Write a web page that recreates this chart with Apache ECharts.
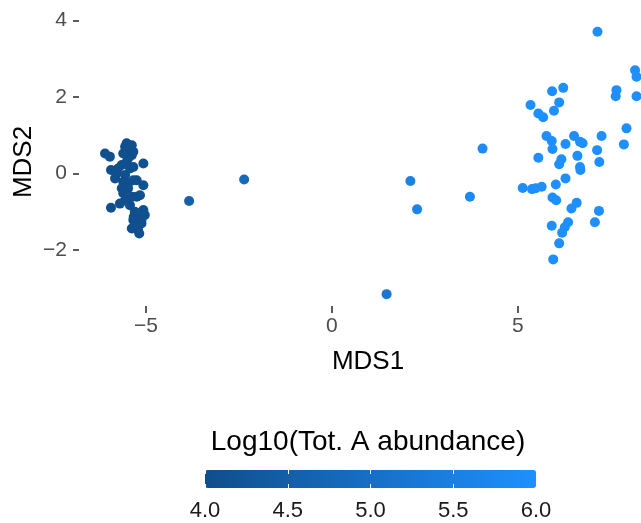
<!DOCTYPE html>
<html>
<head>
<meta charset="utf-8">
<title>MDS ordination</title>
<script src="https://cdn.jsdelivr.net/npm/echarts@6/dist/echarts.min.js"></script>
<style>
  html, body { margin: 0; padding: 0; background: #ffffff; }
  #chart { width: 641px; height: 523px; }
</style>
</head>
<body>
<div id="chart"></div>
<script>
// Sample coordinates on the first two MDS axes, with log10 total abundance
const mds1 = [
  // group dominated by low abundance
  -6.10, -5.97, -5.56, -5.48, -5.61, -5.38, -5.07, -5.94, -5.65, -5.52,
  -5.83, -5.56, -5.34, -5.25, -5.07, -5.48, -5.65, -5.16, -5.25, -5.56,
  -5.70, -5.94, -5.43, -5.30, -5.07, -5.21, -5.03, -5.34, -5.12, -5.30,
  -5.21, -5.18, -5.38, -5.75, -5.61, -5.43, -5.52, -5.38, -5.34, -5.48,
  -5.34, -5.79, -5.48, -5.61, -5.38, -5.12, -5.33,
  // intermediate samples
  -3.84, -2.36, 2.11, 2.29, 1.47, 3.71, 4.05,
  // group dominated by high abundance
  7.14, 8.15, 8.19, 7.65, 7.63, 8.19, 6.22, 5.92, 6.11, 5.34,
  5.97, 5.55, 5.68, 7.92, 7.85, 7.25, 7.13, 7.19, 5.77, 5.91,
  5.93, 6.28, 6.51, 6.67, 6.74, 6.60, 5.55, 6.17, 6.11, 6.67,
  6.68, 6.28, 6.02, 5.13, 5.38, 5.64, 5.48, 5.93, 6.03, 6.58,
  6.44, 7.18, 7.07, 5.91, 6.35, 6.26, 6.19, 6.11, 5.95
];
const mds2 = [
  0.52, 0.44, 0.70, 0.65, 0.52, 0.48, 0.26, 0.09, 0.22, 0.30,
  -0.13, -0.04, -0.18, -0.18, -0.31, -0.39, -0.39, -0.57, -0.61, -0.70,
  -0.79, -0.90, -0.83, -1.00, -0.96, -1.05, -1.09, -1.22, -1.22, -1.35,
  -1.48, -1.57, -1.44, 0.13, -0.22, 0.13, 0.79, 0.74, 0.57, 0.39,
  0.17, 0.00, -0.26, -0.52, -0.61, -1.31, -1.14,
  -0.72, -0.16, -0.20, -0.94, -3.16, -0.61, 0.65,
  3.71, 2.70, 2.53, 2.18, 2.02, 2.02, 2.24, 2.15, 1.86, 1.79,
  1.64, 1.57, 1.47, 1.18, 0.76, 0.98, 0.61, 0.30, 0.98, 0.85,
  0.64, 0.77, 0.98, 0.83, 0.79, 0.46, 0.41, 0.37, 0.24, 0.17,
  0.09, -0.13, -0.29, -0.38, -0.41, -0.35, -0.39, -0.63, -0.70, -0.77,
  -0.92, -0.98, -1.28, -1.37, -1.28, -1.41, -1.55, -1.83, -2.25
];
const abundance = [
  4.02, 4.05, 4.03, 4.08, 4.01, 4.06, 4.10, 4.04, 4.02, 4.07,
  4.03, 4.05, 4.09, 4.04, 4.12, 4.02, 4.06, 4.08, 4.03, 4.05,
  4.01, 4.04, 4.07, 4.02, 4.10, 4.06, 4.09, 4.03, 4.08, 4.05,
  4.04, 4.07, 4.02, 4.06, 4.03, 4.08, 4.04, 4.05, 4.02, 4.06,
  4.03, 4.05, 4.07, 4.02, 4.04, 4.06, 4.03,
  4.55, 4.80, 5.55, 5.65, 5.25, 5.75, 5.85,
  5.98, 5.97, 5.99, 5.96, 5.98, 5.97, 5.99, 5.95, 5.98, 5.96,
  5.97, 5.99, 5.98, 5.96, 5.97, 5.99, 5.98, 5.96, 5.97, 5.98,
  5.99, 5.96, 5.98, 5.97, 5.99, 5.98, 5.96, 5.97, 5.98, 5.99,
  5.97, 5.96, 5.98, 5.95, 5.97, 5.99, 5.98, 5.96, 5.97, 5.98,
  5.99, 5.96, 5.97, 5.98, 5.96, 5.99, 5.97, 5.98, 5.96
];

const xTicks = [-5, 0, 5];
const yTicks = [-2, 0, 2, 4];
const legendTicks = [4.0, 4.5, 5.0, 5.5, 6.0];

const points = mds1.map((x, i) => [x, mds2[i], abundance[i]]);

const fontFamily = '"Liberation Sans", Arial, Helvetica, sans-serif';
const minusLabel = v => String(v).replace('-', '\u2212');

const chart = echarts.init(document.getElementById('chart'), null, { renderer: 'canvas' });

chart.setOption({
  backgroundColor: '#ffffff',
  animation: false,
  grid: [
    { left: 79, right: 0, top: 0, bottom: 217, containLabel: false },
    { left: 205, top: 470, width: 331, height: 18, containLabel: false }
  ],
  xAxis: [
    {
      type: 'value', gridIndex: 0, min: -6.8, max: 8.31,
      axisLine: { show: false, onZero: false },
      splitLine: { show: false },
      axisTick: { show: true, length: 7, customValues: xTicks, lineStyle: { color: '#333333', width: 1.6 } },
      axisLabel: {
        customValues: xTicks, formatter: minusLabel, margin: 10,
        color: '#4d4d4d', fontSize: 21, fontFamily: fontFamily
      }
    },
    {
      type: 'value', gridIndex: 1, min: 4, max: 6, interval: 0.5, position: 'bottom', z: 10,
      axisLine: { show: false, onZero: false },
      splitLine: { show: false },
      axisTick: { show: true, inside: true, length: 4, customValues: legendTicks, lineStyle: { color: '#ffffff', width: 1 } },
      axisLabel: {
        customValues: legendTicks, formatter: v => v.toFixed(1), margin: 12,
        color: '#1a1a1a', fontSize: 22, fontFamily: fontFamily
      }
    },
    {
      type: 'value', gridIndex: 1, min: 4, max: 6, interval: 0.5, position: 'top', z: 10,
      axisLine: { show: false, onZero: false },
      splitLine: { show: false },
      axisTick: { show: true, inside: true, length: 4, customValues: legendTicks, lineStyle: { color: '#ffffff', width: 1 } },
      axisLabel: { show: false }
    }
  ],
  yAxis: [
    {
      type: 'value', gridIndex: 0, min: -3.47, max: 4.54,
      axisLine: { show: false, onZero: false },
      splitLine: { show: false },
      axisTick: { show: true, length: 6, customValues: yTicks, lineStyle: { color: '#333333', width: 1.6 } },
      axisLabel: {
        customValues: yTicks, formatter: minusLabel, margin: 12,
        color: '#4d4d4d', fontSize: 21, fontFamily: fontFamily
      }
    },
    {
      type: 'value', gridIndex: 1, min: 0, max: 1, show: false
    }
  ],
  visualMap: {
    type: 'continuous',
    seriesIndex: 0,
    dimension: 2,
    min: 4,
    max: 6,
    orient: 'horizontal',
    left: 205,
    top: 470,
    itemWidth: 18,
    itemHeight: 331,
    padding: 0,
    calculable: false,
    hoverLink: false,
    text: [],
    showLabel: false,
    inRange: { color: ['#104E8B', '#1E90FF'] },
    z: 1
  },
  series: [
    {
      type: 'scatter',
      xAxisIndex: 0,
      yAxisIndex: 0,
      data: points,
      symbol: 'circle',
      symbolSize: 10,
      itemStyle: { opacity: 1 },
      emphasis: { disabled: true }
    }
  ],
  graphic: [
    {
      type: 'text',
      position: [368, 362],
      style: {
        text: 'MDS1', x: 0, y: 0, textAlign: 'center', textVerticalAlign: 'middle',
        fontSize: 26, fontFamily: fontFamily, fill: '#000000'
      }
    },
    {
      type: 'text',
      position: [24, 162], rotation: Math.PI / 2,
      style: {
        text: 'MDS2', x: 0, y: 0, textAlign: 'center', textVerticalAlign: 'middle',
        fontSize: 26, fontFamily: fontFamily, fill: '#000000'
      }
    },
    {
      type: 'text',
      position: [368, 442],
      style: {
        text: 'Log10(Tot. A abundance)', x: 0, y: 0, textAlign: 'center', textVerticalAlign: 'middle',
        fontSize: 28, fontFamily: fontFamily, fill: '#000000'
      }
    }
  ]
});
</script>
</body>
</html>
